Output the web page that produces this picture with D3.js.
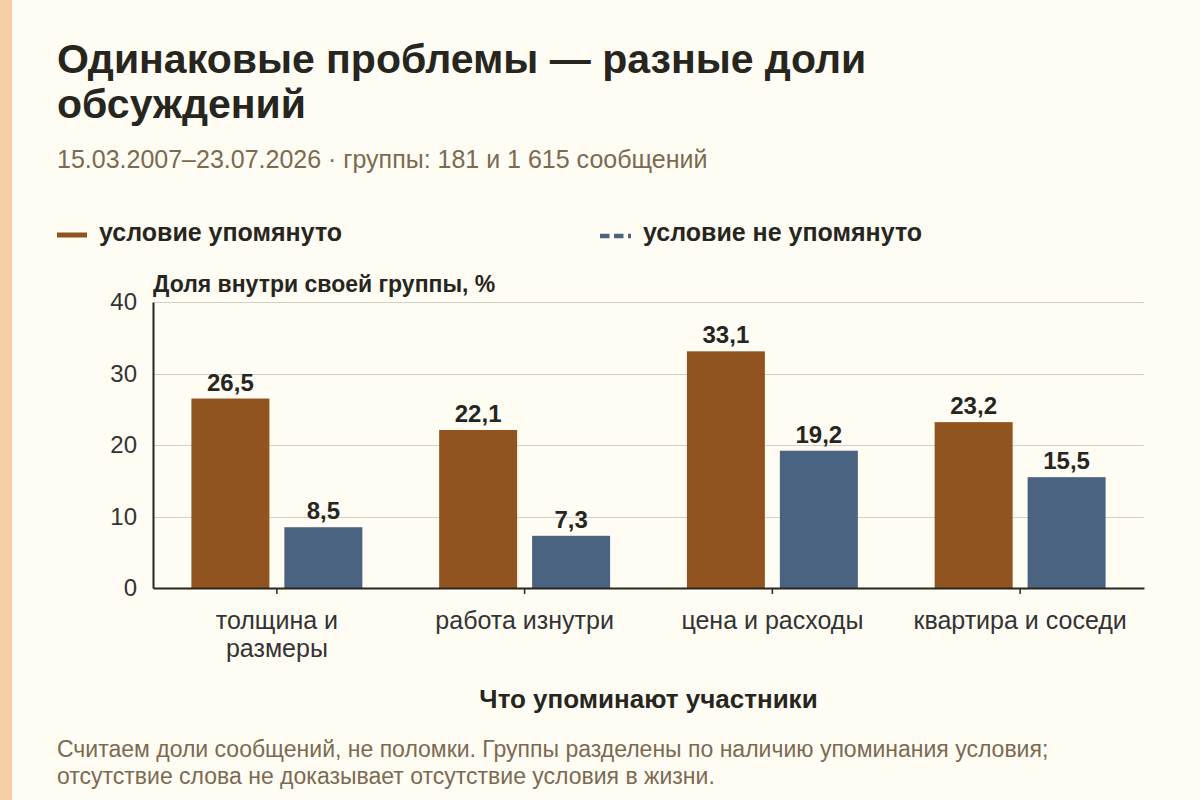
<!DOCTYPE html>
<html><head><meta charset="utf-8">
<script src="https://cdn.jsdelivr.net/npm/d3@7"></script>
<style>
html,body{margin:0;padding:0;background:#fffcf4;}
svg{display:block;font-family:"Liberation Sans",Arial,Helvetica,sans-serif;}
</style></head>
<body>
<svg id="c" width="1200" height="800"></svg>
<script>
const categories = ["толщина и|размеры", "работа изнутри", "цена и расходы", "квартира и соседи"];
const seriesNames = ["условие упомянуто", "условие не упомянуто"];
const mentioned = [26.5, 22.1, 33.1, 23.2];
const notMentioned = [8.5, 7.3, 19.2, 15.5];
const yTicks = [0, 10, 20, 30, 40];
const colors = ["#91531f", "#4a6380"];

(function(){
const FF = "\"Liberation Sans\",Arial,Helvetica,sans-serif";
const svg = d3.select("#c");
svg.append("rect").attr("width",1200).attr("height",800).attr("fill","#fffcf4");
svg.append("rect").attr("x",0).attr("y",0).attr("width",12).attr("height",800).attr("fill","#f6d0a4");

const dark = "#26261f";
const muted = "#7b6a52";

svg.append("text").attr("x",57).attr("y",73).attr("font-size",41).attr("font-weight","bold").attr("fill",dark).text("Одинаковые проблемы — разные доли");
svg.append("text").attr("x",57).attr("y",118).attr("font-size",41).attr("font-weight","bold").attr("fill",dark).text("обсуждений");
svg.append("text").attr("x",57).attr("y",168).attr("font-size",25).attr("fill",muted).text("15.03.2007–23.07.2026 · группы: 181 и 1 615 сообщений");

// legend
const lg = svg.append("g");
lg.append("line").attr("x1",57).attr("x2",87).attr("y1",235).attr("y2",235).attr("stroke",colors[0]).attr("stroke-width",5);
lg.append("text").attr("x",99).attr("y",241).attr("font-size",25).attr("font-weight","bold").attr("fill",dark).text(seriesNames[0]);
lg.append("line").attr("x1",600).attr("x2",631).attr("y1",236).attr("y2",236).attr("stroke",colors[1]).attr("stroke-width",4.5).attr("stroke-dasharray","9.5,4.5");
lg.append("text").attr("x",643).attr("y",241).attr("font-size",25).attr("font-weight","bold").attr("fill",dark).text(seriesNames[1]);

const pLeft = 153, pRight = 1144, pTop = 302, pBottom = 588;
const y = d3.scaleLinear().domain([0,40]).range([pBottom, pTop]);
const x0 = d3.scaleBand().domain(categories).range([pLeft,pRight]).paddingInner(0.31).paddingOuter(0.155);
const x1 = d3.scaleBand().domain(seriesNames).range([0, x0.bandwidth()]).paddingInner(0.161).paddingOuter(0);

// grid
svg.append("g").selectAll("line").data(yTicks.filter(t=>t>0)).join("line")
  .attr("x1",pLeft).attr("x2",pRight).attr("y1",d=>Math.round(y(d))+0.5).attr("y2",d=>Math.round(y(d))+0.5)
  .attr("stroke","#d3cfc6").attr("stroke-width",1.2);

// y axis
const ya = svg.append("g").attr("transform",`translate(${pLeft},0)`).call(d3.axisLeft(y).tickValues(yTicks).tickSize(0).tickPadding(16));
ya.select(".domain").attr("stroke",dark).attr("stroke-width",2);
ya.selectAll("text").attr("font-size",24).attr("fill","#333").attr("font-family",FF);

svg.append("text").attr("x",pLeft).attr("y",292).attr("font-size",23).attr("font-weight","bold").attr("fill",dark).text("Доля внутри своей группы, %");

// bars
const rows = categories.map((c,i)=>({cat:c, vals:[{s:seriesNames[0],v:mentioned[i],c:colors[0]},{s:seriesNames[1],v:notMentioned[i],c:colors[1]}]}));
const g = svg.append("g").selectAll("g").data(rows).join("g").attr("transform",d=>`translate(${x0(d.cat)},0)`);
g.selectAll("rect").data(d=>d.vals).join("rect")
  .attr("x",d=>x1(d.s)).attr("width",x1.bandwidth())
  .attr("y",d=>y(d.v)).attr("height",d=>y(0)-y(d.v)).attr("fill",d=>d.c);
g.selectAll("text").data(d=>d.vals).join("text")
  .attr("x",d=>x1(d.s)+x1.bandwidth()/2).attr("y",d=>y(d.v)-8)
  .attr("text-anchor","middle").attr("font-size",24).attr("font-weight","bold").attr("fill",dark)
  .text(d=>d3.format(".1f")(d.v).replace(".",","));

// x axis
const xa = svg.append("g").attr("transform",`translate(0,${pBottom})`).call(d3.axisBottom(x0).tickSize(6).tickSizeOuter(0).tickFormat(""));
xa.select(".domain").attr("stroke",dark).attr("stroke-width",2);
xa.selectAll(".tick line").attr("stroke",dark).attr("stroke-width",1.5);
xa.selectAll(".tick").each(function(d){
  const lines = d.split("|");
  const t = d3.select(this).append("text").attr("text-anchor","middle").attr("font-size",25).attr("fill","#333")
    .attr("font-family",FF);
  lines.forEach((l,i)=>t.append("tspan").attr("x",0).attr("y",41+i*28).text(l));
});

svg.append("text").attr("x",(pLeft+pRight)/2).attr("y",708).attr("text-anchor","middle").attr("font-size",26).attr("font-weight","bold").attr("fill",dark).text("Что упоминают участники");

svg.append("text").attr("x",57).attr("y",757).attr("font-size",23).attr("fill",muted).text("Считаем доли сообщений, не поломки. Группы разделены по наличию упоминания условия;");
svg.append("text").attr("x",57).attr("y",784).attr("font-size",23).attr("fill",muted).text("отсутствие слова не доказывает отсутствие условия в жизни.");
})();
</script>
</body></html>
